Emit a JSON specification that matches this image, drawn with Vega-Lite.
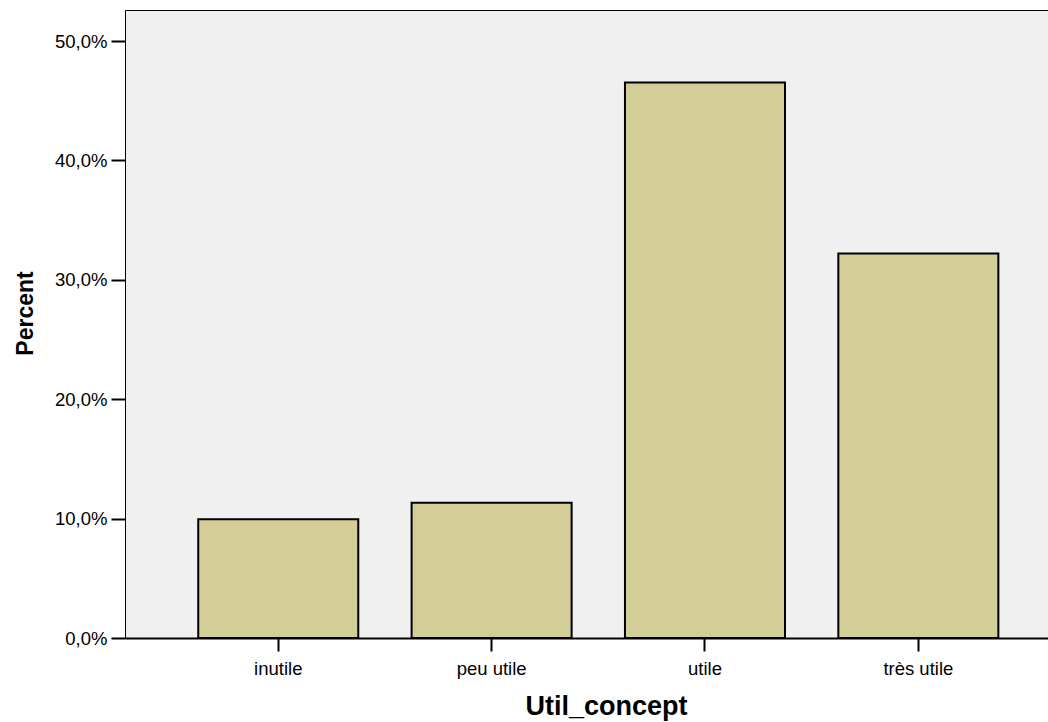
{
  "$schema": "https://vega.github.io/schema/vega-lite/v6.json",
  "width": 923,
  "height": 628,
  "autosize": {"type": "none"},
  "padding": {"left": 125, "top": 10, "right": 0, "bottom": 84},
  "background": "white",
  "config": {
    "font": "Liberation Sans",
    "view": {"fill": "#f0f0f0", "stroke": "black", "strokeWidth": 1}
  },
  "data": {
    "values": [
      {"Util_concept": "inutile", "Percent": 9.94},
      {"Util_concept": "peu utile", "Percent": 11.33},
      {"Util_concept": "utile", "Percent": 46.52},
      {"Util_concept": "très utile", "Percent": 32.2}
    ]
  },
  "mark": {"type": "bar", "fill": "#d3ce98", "stroke": "black", "strokeWidth": 2},
  "encoding": {
    "x": {
      "field": "Util_concept",
      "type": "nominal",
      "sort": null,
      "scale": {"paddingInner": 0.25, "paddingOuter": 0.288, "align": 0.596},
      "axis": {
        "title": "Util_concept",
        "labelAngle": 0,
        "labelFontSize": 18.5,
        "labelColor": "black",
        "labelPadding": 8,
        "domainColor": "black",
        "domainWidth": 2,
        "tickColor": "black",
        "tickWidth": 2,
        "tickSize": 13,
        "titleFontSize": 27,
        "titleFontWeight": "bold",
        "titleColor": "black",
        "titleBaseline": "alphabetic",
        "titleX": 481,
        "titleY": 76
      }
    },
    "y": {
      "field": "Percent",
      "type": "quantitative",
      "scale": {"domain": [0, 52.6], "nice": false},
      "axis": {
        "title": "Percent",
        "values": [0, 10, 20, 30, 40, 50],
        "labelExpr": "replace(format(datum.value, '.1f'), '.', ',') + '%'",
        "labelFontSize": 18.5,
        "labelColor": "black",
        "labelPadding": 4,
        "grid": false,
        "domain": false,
        "tickColor": "black",
        "tickWidth": 2,
        "tickSize": 14,
        "titleFontSize": 23,
        "titleFontWeight": "bold",
        "titleColor": "black",
        "titleX": -88,
        "titleY": 303
      }
    }
  }
}
